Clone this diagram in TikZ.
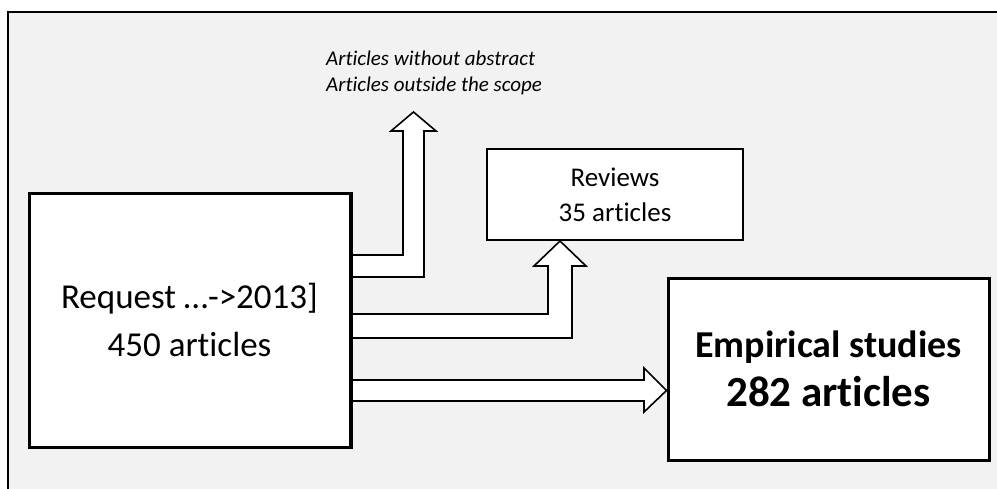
\documentclass[tikz,border=0pt]{standalone}
\usepackage{fontspec}
\setmainfont{Carlito}[Ligatures=NoCommon]
\definecolor{bggray}{HTML}{F2F2F2}
\begin{document}
\begin{tikzpicture}[x=1pt,y=-1pt,
  box/.style={draw=black,fill=white,inner sep=0pt,align=center},
  blockarrow/.style={draw=black,fill=white,line width=1.6pt,line join=miter}]
\useasboundingbox (0,0) rectangle (997,488);
\clip (0,0) rectangle (997,488);
\draw[fill=bggray,line width=2pt] (8,12) rectangle (1010,500);
% boxes
\node[box,line width=3pt,minimum width=321pt,minimum height=254pt,font=\fontsize{35}{48}\selectfont] (req) at (189.5,320) {Request …->2013]\\450 articles};
\node[box,line width=2pt,minimum width=256pt,minimum height=91pt,font=\fontsize{27}{35}\selectfont] (rev) at (615,194.5) {Reviews\\35 articles};
\node[box,line width=3pt,minimum width=321pt,minimum height=182pt,font=\fontsize{38}{49}\bfseries\selectfont] (emp) at (828.5,369) {Empirical studies\\{\fontsize{43}{49}\selectfont 282 articles}};
\node[anchor=west,align=left,inner sep=0pt,font=\fontsize{21}{26}\itshape\selectfont] (excl) at (326,72.5) {Articles without abstract\\Articles outside the scope};
% block arrows
\draw[blockarrow] (req.east |- 0,255) -- (403,255) -- (403,131) -- (391,131) -- (413.5,112) -- (436,131) -- (424,131) -- (424,277) -- (req.east |- 0,277);
\draw[blockarrow] (req.east |- 0,314) -- (548,314) -- (548,266) -- (534,266) -- (rev.south -| 560,0) -- (586,266) -- (572,266) -- (572,338) -- (req.east |- 0,338);
\draw[blockarrow] (req.east |- 0,380) -- (644,380) -- (644,368) -- (emp.west |- 0,390.5) -- (644,412) -- (644,401) -- (req.east |- 0,401);
\draw[line width=3pt] (req.north east) -- (req.south east);
\end{tikzpicture}
\end{document}
